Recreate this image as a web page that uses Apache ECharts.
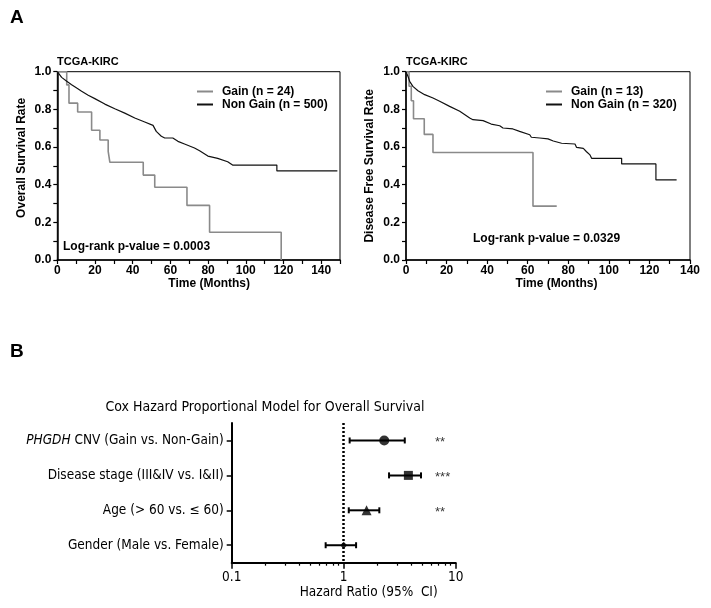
<!DOCTYPE html>
<html><head><meta charset="utf-8">
<script src="https://cdn.jsdelivr.net/npm/echarts@6/dist/echarts.min.js"></script>
<style>html,body{margin:0;padding:0;background:#fff}#c{width:711px;height:608px}</style>
</head><body><div id="c"></div><script>
// ---- Data ----
const osGain = [[0,1],[5,0.93],[6.2,0.833],[10.8,0.786],[18.2,0.689],[22.6,0.637],[27,0.577],[27.9,0.519],[45.6,0.451],[51.7,0.386],[68.8,0.29],[80.8,0.147],[118.8,0]];
const osNonGain = [[0,1],[0.5,0.993],[2.3,0.97],[5,0.949],[7.6,0.931],[10.3,0.913],[12.9,0.896],[16.4,0.875],[19.9,0.857],[25.2,0.828],[30.5,0.803],[35.8,0.78],[41.1,0.754],[46.4,0.733],[50.8,0.715],[52.5,0.683],[55.2,0.657],[57,0.648],[61.3,0.648],[64,0.63],[67.5,0.616],[72.8,0.595],[75.5,0.58],[79.9,0.552],[85.1,0.54],[90.4,0.522],[93,0.504],[116.5,0.504],[116.5,0.473],[148.6,0.473]];
const dfsGain = [[0,1],[1.5,0.923],[2.6,0.846],[3.7,0.75],[9,0.667],[13.3,0.571],[62.6,0.286],[74.3,0.286]];
const dfsNonGain = [[0,1],[0.5,0.998],[1,0.975],[1.8,0.949],[3.4,0.922],[5.9,0.899],[9.2,0.878],[13.3,0.86],[16.6,0.843],[21.5,0.816],[26.5,0.79],[31.4,0.754],[33,0.745],[38,0.74],[42,0.722],[46.2,0.713],[47.8,0.701],[52.7,0.696],[56,0.683],[61,0.665],[61.8,0.652],[65.9,0.648],[70,0.643],[72.6,0.632],[76.7,0.62],[83.3,0.616],[84.1,0.598],[87.4,0.593],[89,0.575],[90.7,0.558],[91.5,0.54],[106.3,0.54],[106.3,0.51],[123.2,0.51],[123.2,0.425],[133.4,0.425]];
const osNames = ['Gain (n = 24)','Non Gain (n = 500)'];
const dfsNames = ['Gain (n = 13)','Non Gain (n = 320)'];

const forestLabels = ['PHGDH CNV (Gain vs. Non-Gain)','Disease stage (III&IV vs. I&II)','Age (> 60 vs. \u2264 60)','Gender (Male vs. Female)'];
const hazardRatio = [2.30, 3.78, 1.60, 1.00];
const ciLow = [1.13, 2.54, 1.11, 0.69];
const ciHigh = [3.51, 4.90, 2.08, 1.29];
const significance = ['**','***','**',''];
const hrMinorTicks = [0.2,0.3,0.4,0.5,0.6,0.7,0.8,0.9,2,3,4,5,6,7,8,9];

// ---- Styling ----
const ARIAL = '"Liberation Sans", Arial, sans-serif';
const NARROW = '"Liberation Sans Narrow", "Arial Narrow", "DejaVu Sans Condensed", sans-serif';
const NFS = 13.5;
const boldTxt = {fontFamily: ARIAL, fontWeight: 'bold', fontSize: 11, color: '#000'};
const symbols = ['circle','rect','triangle','diamond'];
const symbolSizes = [10, 9, 10, 7];

function kmX(gridIndex, max, name, padL) {
  return {
    type: 'value', gridIndex, min: 0, max, interval: 10,
    name, nameLocation: 'middle', nameGap: 17,
    nameTextStyle: Object.assign({}, boldTxt, {fontSize: 12, padding: [0,0,0,padL]}),
    axisLine: {show: true, onZero: false, lineStyle: {color: '#000', width: 1.5}},
    axisTick: {show: true, length: 4, lineStyle: {color: '#000', width: 1.2}},
    axisLabel: Object.assign({}, boldTxt, {fontSize: 12, margin: 5, showMaxLabel: true,
      formatter: v => (v % 20 === 0 && v <= 140) ? String(v) : ''}),
    splitLine: {show: false}
  };
}
function kmY(gridIndex, name, padR) {
  return {
    type: 'value', gridIndex, min: 0, max: 1, interval: 0.1,
    name, nameLocation: 'middle', nameGap: 30,
    nameTextStyle: Object.assign({}, boldTxt, {fontSize: 12, padding: [0,0,0,padR]}),
    axisLine: {show: true, onZero: false, lineStyle: {color: '#000', width: 1.5}},
    axisTick: {show: true, length: 4, lineStyle: {color: '#000', width: 1.2}},
    axisLabel: Object.assign({}, boldTxt, {fontSize: 12, margin: 6,
      formatter: v => { const k = Math.round(v * 10); return k % 2 === 0 ? (k / 10).toFixed(1) : ''; }}),
    splitLine: {show: false}
  };
}
function kmSeries(name, data, xi, yi, gain) {
  return {
    type: 'line', name, data, xAxisIndex: xi, yAxisIndex: yi,
    step: gain ? 'end' : false, symbol: 'none', showSymbol: false,
    lineStyle: {color: gain ? '#8a8a8a' : '#111', width: gain ? 1.6 : 1.2},
    itemStyle: {color: gain ? '#8a8a8a' : '#111'},
    animation: false
  };
}
function kmLegend(names, left) {
  return {
    data: names, orient: 'vertical', left, top: 85.5, icon: 'rect', padding: 0,
    itemWidth: 16, itemHeight: 2, itemGap: 1,
    textStyle: Object.assign({}, boldTxt, {fontSize: 12, lineHeight: 12, padding: [0,0,0,4]}),
    selectedMode: false
  };
}

const chart = echarts.init(document.getElementById('c'), null, {renderer: 'canvas'});
const option = {
  animation: false,
  backgroundColor: '#fff',
  grid: [
    {left: 57.3, top: 71.7, width: 282.7, height: 188.3, show: true, borderColor: '#000', borderWidth: 1},
    {left: 406, top: 71.7, width: 284, height: 188.3, show: true, borderColor: '#000', borderWidth: 1},
    {left: 231.7, top: 423, width: 224, height: 139.7}
  ],
  legend: [kmLegend(osNames, 197), kmLegend(dfsNames, 546)],
  xAxis: [
    kmX(0, 150, 'Time (Months)', 21),
    kmX(1, 140, 'Time (Months)', 17),
    {
      type: 'log', gridIndex: 2, min: 0.1, max: 10, logBase: 10,
      name: 'Hazard Ratio (95%  CI)', nameLocation: 'middle', nameGap: 21,
      nameTextStyle: {fontFamily: NARROW, fontSize: NFS, color: '#000', padding: [0,0,0,50]},
      axisLine: {show: true, onZero: false, lineStyle: {color: '#000', width: 2}},
      axisTick: {show: true, length: 6, lineStyle: {color: '#000', width: 1.5}},
      axisLabel: {fontFamily: NARROW, fontSize: NFS, color: '#000', margin: 8,
        formatter: v => String(v)},
      splitLine: {show: false}
    },
    {
      type: 'log', gridIndex: 2, min: 0.1, max: 10, logBase: 10, position: 'bottom',
      axisLine: {show: false},
      axisTick: {show: true, length: 3, customValues: hrMinorTicks, lineStyle: {color: '#000', width: 1.2}},
      axisLabel: {show: false},
      splitLine: {show: false}
    }
  ],
  yAxis: [
    kmY(0, 'Overall Survival Rate', 16),
    kmY(1, 'Disease Free Survival Rate', 0),
    {
      type: 'category', gridIndex: 2, data: forestLabels, inverse: true,
      axisLine: {show: true, onZero: false, lineStyle: {color: '#000', width: 2}},
      axisTick: {show: true, alignWithLabel: true, length: 5, lineStyle: {color: '#000', width: 1.5}},
      axisLabel: {fontFamily: NARROW, fontSize: NFS, color: '#000', margin: 8,
        formatter: v => v.indexOf('PHGDH') === 0 ? '{i|PHGDH}' + v.slice(5) : v,
        rich: {i: {fontFamily: NARROW, fontSize: NFS, fontStyle: 'italic', color: '#000'}}},
      splitLine: {show: false}
    }
  ],
  series: [
    kmSeries(osNames[0], osGain, 0, 0, true),
    kmSeries(osNames[1], osNonGain, 0, 0, false),
    kmSeries(dfsNames[0], dfsGain, 1, 1, true),
    kmSeries(dfsNames[1], dfsNonGain, 1, 1, false),
    {
      type: 'custom', xAxisIndex: 2, yAxisIndex: 2,
      data: forestLabels.map((_, i) => [ciLow[i], i, ciHigh[i]]),
      encode: {x: [0, 2], y: 1},
      renderItem: (params, api) => {
        const a = api.coord([api.value(0), api.value(1)]);
        const b = api.coord([api.value(2), api.value(1)]);
        const st = {stroke: '#000', lineWidth: 2};
        return {type: 'group', children: [
          {type: 'line', shape: {x1: a[0], y1: a[1], x2: b[0], y2: b[1]}, style: st},
          {type: 'line', shape: {x1: a[0], y1: a[1] - 3, x2: a[0], y2: a[1] + 3}, style: st},
          {type: 'line', shape: {x1: b[0], y1: b[1] - 3, x2: b[0], y2: b[1] + 3}, style: st}
        ]};
      },
      z: 3
    },
    {
      type: 'scatter', xAxisIndex: 2, yAxisIndex: 2,
      data: hazardRatio.map((v, i) => ({value: [v, i], symbol: symbols[i], symbolSize: symbolSizes[i]})),
      itemStyle: {color: '#000'},
      markLine: {
        silent: true, symbol: 'none', label: {show: false},
        lineStyle: {color: '#000', type: [2, 2], width: 2.5},
        data: [{xAxis: 1}]
      },
      z: 4
    },
    {
      type: 'scatter', xAxisIndex: 2, yAxisIndex: 2, symbolSize: 0,
      data: significance.map((s, i) => [6.54, i, s]),
      label: {show: true, position: 'right', distance: 0, offset: [0, 2],
        formatter: p => p.value[2], fontFamily: ARIAL, fontSize: 13, color: '#000'}
    }
  ],
  graphic: [
    {type: 'text', x: 10, y: 18, style: {text: 'A', font: 'bold 19px ' + ARIAL, fill: '#000', verticalAlign: 'middle'}},
    {type: 'text', x: 10, y: 352, style: {text: 'B', font: 'bold 19px ' + ARIAL, fill: '#000', verticalAlign: 'middle'}},
    {type: 'text', x: 57, y: 62, style: {text: 'TCGA-KIRC', font: 'bold 11px ' + ARIAL, fill: '#000', verticalAlign: 'middle'}},
    {type: 'text', x: 406, y: 62, style: {text: 'TCGA-KIRC', font: 'bold 11px ' + ARIAL, fill: '#000', verticalAlign: 'middle'}},
    {type: 'text', x: 63, y: 246.5, style: {text: 'Log-rank p-value = 0.0003', font: 'bold 12px ' + ARIAL, fill: '#000', verticalAlign: 'middle'}},
    {type: 'text', x: 473, y: 239, style: {text: 'Log-rank p-value = 0.0329', font: 'bold 12px ' + ARIAL, fill: '#000', verticalAlign: 'middle'}},
    {type: 'text', x: 265, y: 407, style: {text: 'Cox Hazard Proportional Model for Overall Survival', font: '14px ' + NARROW, fill: '#000', align: 'center', verticalAlign: 'middle'}}
  ]
};
chart.setOption(option);
</script></body></html>
